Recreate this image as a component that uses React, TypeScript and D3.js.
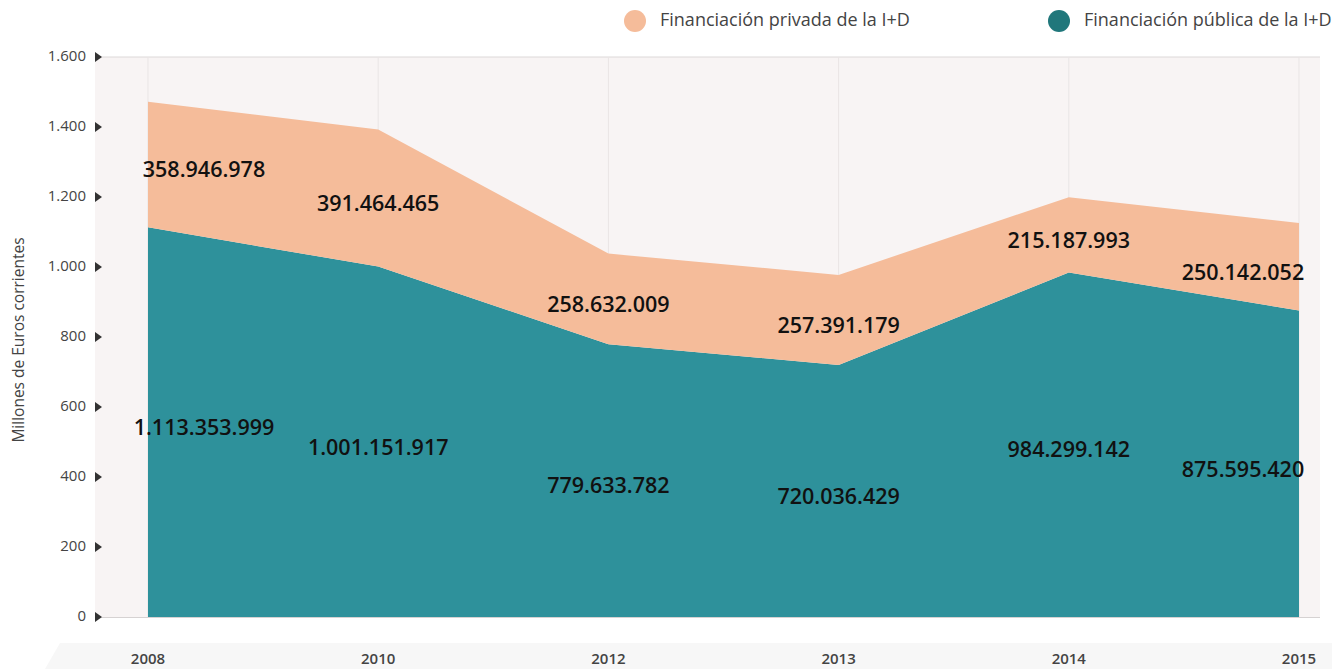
import { scaleLinear, scalePoint, area, stack } from "d3"

// Data (millions of euros, labels show exact euros)
const years = ["2008", "2010", "2012", "2013", "2014", "2015"]
const publicValues = [1113.353999, 1001.151917, 779.633782, 720.036429, 984.299142, 875.59542]
const privateValues = [358.946978, 391.464465, 258.632009, 257.391179, 215.187993, 250.142052]
const publicLabels = ["1.113.353.999", "1.001.151.917", "779.633.782", "720.036.429", "984.299.142", "875.595.420"]
const privateLabels = ["358.946.978", "391.464.465", "258.632.009", "257.391.179", "215.187.993", "250.142.052"]
const yTicks = [0, 200, 400, 600, 800, 1000, 1200, 1400, 1600]
const legendNames = ["Financiación privada de la I+D", "Financiación pública de la I+D"]

const W = 1332
const H = 669
const plot = { left: 95, right: 1320, top: 57, bottom: 617 }
const font = "'Open Sans', 'Noto Sans', sans-serif"

const fmt = (n: number) => n.toString().replace(/\B(?=(\d{3})+(?!\d))/g, ".")

export default function App() {
  const x = scalePoint<string>().domain(years).range([148, 1299])
  const y = scaleLinear().domain([0, 1600]).range([plot.bottom, plot.top])

  const rows = years.map((yr, i) => ({ year: yr, pub: publicValues[i], priv: privateValues[i] }))
  const series = stack<any>().keys(["pub", "priv"])(rows)

  const areaGen = area<any>()
    .x(d => x(d.data.year)!)
    .y0(d => y(d[0]))
    .y1(d => y(d[1]))

  const colors = ["#2e919b", "#f5bc9a"]
  const labels = [publicLabels, privateLabels]

  // edge labels are pushed inward so they stay inside the series span
  const labelX = (i: number) => {
    if (i === 0) return x(years[i])! + 56
    if (i === years.length - 1) return x(years[i])! - 56
    return x(years[i])!
  }

  return (
    <svg width={W} height={H} style={{ position: "absolute", left: 0, top: 0, fontFamily: font }}>
      {/* plot background */}
      <rect x={plot.left} y={plot.top} width={plot.right - plot.left} height={plot.bottom - plot.top} fill="#f8f4f4" />
      <line x1={plot.left} x2={plot.right} y1={plot.top} y2={plot.top} stroke="#dcd8d8" />
      {years.map(yr => (
        <line key={yr} x1={x(yr)} x2={x(yr)} y1={plot.top} y2={plot.bottom} stroke="#e9e5e5" />
      ))}

      {/* areas */}
      {series.map((s, k) => (
        <path key={k} d={areaGen(s as any) || ""} fill={colors[k]} />
      ))}
      <line x1={plot.left} x2={plot.right} y1={plot.bottom + 0.5} y2={plot.bottom + 0.5} stroke="#d6d2d2" />

      {/* value labels */}
      {series.map((s, k) =>
        s.map((d, i) => (
          <text key={`${k}-${i}`} x={labelX(i)} y={(y(d[0]) + y(d[1])) / 2 + 7} textAnchor="middle"
            dominantBaseline="middle" fontSize={21.5} fontWeight={600} fill="#111">
            {labels[k][i]}
          </text>
        ))
      )}

      {/* y axis */}
      {yTicks.map(t => (
        <g key={t} transform={`translate(0,${y(t)})`}>
          <text x={86} y={0} textAnchor="end" dominantBaseline="middle" fontSize={15} fill="#444">{fmt(t)}</text>
          <path d={`M${plot.left},-5 L${plot.left + 7},0 L${plot.left},5 Z`} fill="#333" />
        </g>
      ))}
      <text transform={`translate(24,${(plot.top + plot.bottom) / 2 + 3}) rotate(-90)`} textAnchor="middle" fontSize={15.5} fill="#444">
        Millones de Euros corrientes
      </text>

      {/* x axis band */}
      <path d={`M60,643 L${W},643 L${W},${H} L45,${H} Z`} fill="#f7f7f7" />
      {years.map(yr => (
        <text key={yr} x={x(yr)} y={660} textAnchor="middle" dominantBaseline="middle" fontSize={15} fontWeight={600} fill="#444">{yr}</text>
      ))}

      {/* legend */}
      {legendNames.map((name, i) => {
        const lx = i === 0 ? 635 : 1059
        return (
          <g key={name}>
            <circle cx={lx} cy={21} r={11} fill={i === 0 ? "#f5bc9a" : "#20777b"} />
            <text x={lx + 25} y={21} dominantBaseline="middle" fontSize={18} fill="#444">{name}</text>
          </g>
        )
      })}
    </svg>
  )
}
